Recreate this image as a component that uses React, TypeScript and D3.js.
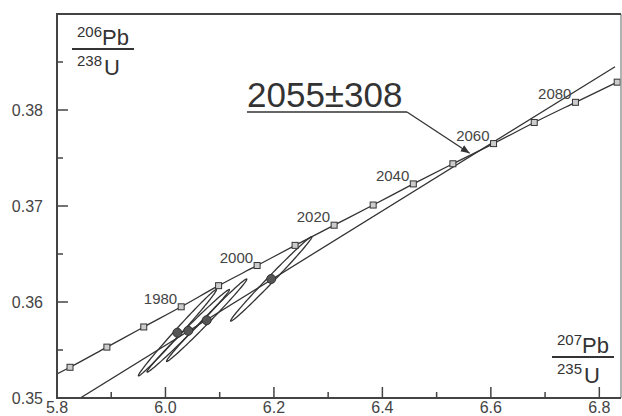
import React from "react";
import * as d3 from "d3";

// concordia reference points (10 Ma steps)
const concordiaAges = [1950, 1960, 1970, 1980, 1990, 2000, 2010, 2020, 2030, 2040, 2050, 2060, 2070, 2080, 2090];
const concordia207 = [5.824, 5.892, 5.960, 6.029, 6.098, 6.169, 6.239, 6.311, 6.383, 6.457, 6.530, 6.605, 6.680, 6.756, 6.833];
const concordia206 = [0.3532, 0.3553, 0.3574, 0.3595, 0.3617, 0.3638, 0.3659, 0.3680, 0.3701, 0.3723, 0.3744, 0.3765, 0.3787, 0.3808, 0.3829];
const concordiaStart = [5.8, 0.3525];
const labelledAges = [1980, 2000, 2020, 2040, 2060, 2080];

// analyses: 207Pb/235U, 206Pb/238U with error extents and correlation
const spotX = [6.022, 6.042, 6.076, 6.195];
const spotSX = [0.072, 0.076, 0.074, 0.075];
const spotY = [0.3568, 0.3570, 0.3581, 0.3624];
const spotSY = [0.0045, 0.0043, 0.0043, 0.0044];
const spotRho = [0.994, 0.994, 0.994, 0.994];

// discordia line ends
const discordiaX = [5.843, 6.829];
const discordiaY = [0.35, 0.3845];
const interceptText = "2055±308";
const intercept = [6.561, 0.3755];

const xMajor = [5.8, 6.0, 6.2, 6.4, 6.6, 6.8];
const xMinor = [5.9, 6.1, 6.3, 6.5, 6.7];
const yMajor = [0.35, 0.36, 0.37, 0.38];
const yMinor = [0.355, 0.365, 0.375, 0.385];

const W = 622;
const H = 416;
const FONT = "'Liberation Sans', Arial, sans-serif";
const INK = "#333";

function Ratio({ x0, y0, top, bottom, num, den }: any) {
  // fraction label like 206Pb / 238U
  return (
    <g fill={INK} fontFamily={FONT}>
      <text x={x0 + 5} y={y0 - 12} fontSize={15}>{top}</text>
      <text x={x0 + 30} y={y0 - 4} fontSize={22}>{num}</text>
      <line x1={x0} x2={x0 + 62} y1={y0} y2={y0} stroke={INK} strokeWidth={2} />
      <text x={x0 + 5} y={y0 + 17} fontSize={15}>{bottom}</text>
      <text x={x0 + 32} y={y0 + 26} fontSize={22}>{den}</text>
    </g>
  );
}

export default function App() {
  const x = d3.scaleLinear().domain([5.8, 6.84]).range([57, 621]);
  const y = d3.scaleLinear().domain([0.35, 0.39]).range([398, 14]);

  const pts: [number, number][] = [concordiaStart as [number, number]].concat(
    concordia207.map((v, i) => [v, concordia206[i]] as [number, number])
  );
  const curve = d3
    .line<[number, number]>()
    .x((d) => x(d[0]))
    .y((d) => y(d[1]))
    .curve(d3.curveMonotoneX)(pts);

  const ellipse = (i: number) => {
    const r = spotRho[i];
    const k = Math.sqrt(1 - r * r);
    const ring = d3.range(0, 361, 3).map((deg) => {
      const t = (deg * Math.PI) / 180;
      const u = Math.cos(t);
      const v = Math.sin(t);
      return [x(spotX[i] + spotSX[i] * u), y(spotY[i] + spotSY[i] * (r * u + k * v))] as [number, number];
    });
    return d3.line().curve(d3.curveLinearClosed)(ring);
  };

  const tx0 = 247;
  const tBase = 107;
  const tEnd = 407;

  return (
    <div style={{ position: "fixed", left: 0, top: 0 }}>
      <svg width={W} height={H} style={{ display: "block", background: "#fff" }}>
        <defs>
          <clipPath id="plot">
            <rect x={x(5.8)} y={y(0.39)} width={x(6.84) - x(5.8)} height={y(0.35) - y(0.39)} />
          </clipPath>
          <marker id="arr" viewBox="0 0 10 10" refX={10} refY={5} markerWidth={9} markerHeight={9} orient="auto" markerUnits="userSpaceOnUse">
            <path d="M0,1 L10,5 L0,9 Z" fill={INK} />
          </marker>
        </defs>

        <g clipPath="url(#plot)">
          <line
            x1={x(discordiaX[0])}
            y1={y(discordiaY[0])}
            x2={x(discordiaX[1])}
            y2={y(discordiaY[1])}
            stroke={INK}
            strokeWidth={1.3}
          />
          <path d={curve || ""} fill="none" stroke={INK} strokeWidth={1.3} />
          {spotX.map((_, i) => (
            <path key={"e" + i} d={ellipse(i) || ""} fill="none" stroke={INK} strokeWidth={1.3} />
          ))}
          {spotX.map((v, i) => (
            <circle key={"c" + i} cx={x(v)} cy={y(spotY[i])} r={4.5} fill="#555" stroke="#333" strokeWidth={1} />
          ))}
          {concordia207.map((v, i) => (
            <rect
              key={"m" + i}
              x={x(v) - 3}
              y={y(concordia206[i]) - 3}
              width={6}
              height={6}
              fill="#ccc"
              stroke={INK}
              strokeWidth={1}
            />
          ))}
        </g>

        {concordiaAges.map((a, i) =>
          labelledAges.includes(a) ? (
            <text
              key={"a" + a}
              x={x(concordia207[i]) - 4}
              y={y(concordia206[i]) - 3}
              textAnchor="end"
              fontSize={15}
              fontFamily={FONT}
              fill="#444"
            >
              {a}
            </text>
          ) : null
        )}

        {/* frame */}
        <line x1={621} x2={621} y1={y(0.39)} y2={y(0.35)} stroke="#999" strokeWidth={1.5} />
        <line x1={x(5.8)} x2={621} y1={y(0.39)} y2={y(0.39)} stroke="#444" strokeWidth={2} />
        <line x1={x(5.8)} x2={621} y1={y(0.35)} y2={y(0.35)} stroke="#444" strokeWidth={2} />
        <line x1={x(5.8)} x2={x(5.8)} y1={y(0.39) - 1} y2={y(0.35) + 1} stroke="#444" strokeWidth={2} />

        {/* ticks */}
        {xMajor.map((t) => (
          <g key={"xM" + t}>
            <line x1={x(t)} x2={x(t)} y1={y(0.35)} y2={y(0.35) - 11} stroke="#444" strokeWidth={1.5} />
            <text x={x(t)} y={413} textAnchor="middle" fontSize={16} fontFamily={FONT} fill="#444">
              {t.toFixed(1)}
            </text>
          </g>
        ))}
        {xMinor.map((t) => (
          <line key={"xm" + t} x1={x(t)} x2={x(t)} y1={y(0.35)} y2={y(0.35) - 6} stroke="#444" strokeWidth={1.5} />
        ))}
        {yMajor.map((t) => (
          <g key={"yM" + t}>
            <line x1={x(5.8)} x2={x(5.8) + 11} y1={y(t)} y2={y(t)} stroke="#444" strokeWidth={1.5} />
            <text x={43} y={y(t) + 6} textAnchor="end" fontSize={16} fontFamily={FONT} fill="#444">
              {t.toFixed(2)}
            </text>
          </g>
        ))}
        {yMinor.map((t) => (
          <line key={"ym" + t} x1={x(5.8)} x2={x(5.8) + 6} y1={y(t)} y2={y(t)} stroke="#444" strokeWidth={1.5} />
        ))}

        {/* axis titles */}
        <Ratio x0={72} y0={49} top="206" num="Pb" bottom="238" den="U" />
        <Ratio x0={552} y0={357} top="207" num="Pb" bottom="235" den="U" />

        {/* intercept annotation */}
        <text x={tx0} y={tBase} fontSize={35} fontFamily={FONT} fill={INK}>
          {interceptText}
        </text>
        <line x1={tx0} x2={tEnd} y1={tBase + 5} y2={tBase + 5} stroke={INK} strokeWidth={1.5} />
        <line
          x1={tEnd}
          y1={tBase + 5}
          x2={x(intercept[0])}
          y2={y(intercept[1])}
          stroke={INK}
          strokeWidth={1.3}
          markerEnd="url(#arr)"
        />
      </svg>
    </div>
  );
}
